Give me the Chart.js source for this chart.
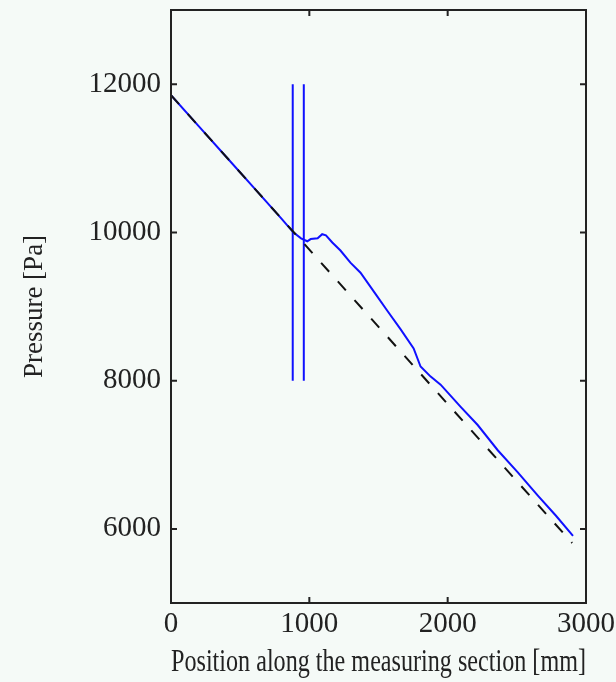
<!DOCTYPE html>
<html lang="en">
<head>
    <meta charset="UTF-8">
    <title>Pressure along the measuring section</title>
    <script src="https://cdn.jsdelivr.net/npm/chart.js"></script>
    <style>
        body { margin: 0; background: #f5faf7; }
    </style>
</head>
<body>
<canvas id="pressureChart" width="616" height="682"></canvas>

<script>
    // measured pressure (blue)
    const measuredPos = [0, 200, 400, 600, 800, 884, 940, 985, 1010, 1060, 1093, 1120, 1166, 1225, 1297, 1370, 1478, 1565, 1659, 1754, 1804, 1877, 1949, 2094, 2217, 2362, 2507, 2652, 2783, 2906];
    const measuredPa  = [11850, 11433, 11017, 10600, 10183, 10000, 9920, 9880, 9910, 9920, 9975, 9960, 9864, 9755, 9592, 9456, 9170, 8939, 8694, 8435, 8190, 8054, 7946, 7646, 7401, 7061, 6762, 6449, 6177, 5905];

    // reference line (black dashed)
    const refPos = [0, 2900];
    const refPa  = [11850, 5810];

    // the two vertical markers
    const markerPos = [880, 960];
    const markerPa  = [8000, 12000];

    const xTicks = [0, 1000, 2000, 3000];
    const yTicks = [6000, 8000, 10000, 12000];

    const serif = 'Liberation Serif';

    const toPoints = (xs, ys) => xs.map((x, i) => ({x: x, y: ys[i]}));

    // frame + inward tick marks like the original plot
    const framePlugin = {
        id: 'frame',
        afterDraw(chart) {
            const {ctx, chartArea: a, scales} = chart;
            ctx.save();
            ctx.strokeStyle = '#222';
            ctx.lineWidth = 2;
            ctx.strokeRect(a.left, a.top, a.right - a.left, a.bottom - a.top);
            ctx.beginPath();
            xTicks.forEach(v => {
                const px = scales.x.getPixelForValue(v);
                ctx.moveTo(px, a.bottom); ctx.lineTo(px, a.bottom - 6);
                ctx.moveTo(px, a.top); ctx.lineTo(px, a.top + 6);
            });
            yTicks.forEach(v => {
                const py = scales.y.getPixelForValue(v);
                ctx.moveTo(a.left, py); ctx.lineTo(a.left + 6, py);
                ctx.moveTo(a.right, py); ctx.lineTo(a.right - 6, py);
            });
            ctx.stroke();
            ctx.restore();
        }
    };

    const ctx = document.getElementById('pressureChart').getContext('2d');
    new Chart(ctx, {
        type: 'scatter',
        data: {
            datasets: [
                {
                    data: toPoints(refPos, refPa),
                    showLine: true,
                    borderColor: '#111',
                    borderWidth: 2,
                    borderDash: [12, 13],
                    pointRadius: 0
                },
                {
                    data: toPoints(measuredPos, measuredPa),
                    showLine: true,
                    borderColor: '#1010ff',
                    borderWidth: 2,
                    pointRadius: 0
                },
                {
                    data: toPoints([markerPos[0], markerPos[0]], markerPa),
                    showLine: true,
                    borderColor: '#1010ff',
                    borderWidth: 2,
                    pointRadius: 0
                },
                {
                    data: toPoints([markerPos[1], markerPos[1]], markerPa),
                    showLine: true,
                    borderColor: '#1010ff',
                    borderWidth: 2,
                    pointRadius: 0
                }
            ]
        },
        options: {
            responsive: false,
            animation: false,
            layout: { padding: { left: 0, right: 30, top: 10, bottom: 0 } },
            plugins: {
                legend: { display: false },
                tooltip: { enabled: false }
            },
            scales: {
                x: {
                    type: 'linear',
                    min: 0,
                    max: 3000,
                    afterBuildTicks: s => { s.ticks = xTicks.map(v => ({value: v})); },
                    afterFit: s => { s.height = 79; s.paddingLeft = 0; s.paddingRight = 0; },
                    grid: { display: false, drawTicks: false },
                    border: { display: false },
                    ticks: {
                        color: '#222',
                        padding: 4,
                        font: { family: serif, size: 29 },
                        callback: v => String(v)
                    },
                    title: {
                        display: true,
                        text: 'Position along the measuring section [mm]',
                        color: '#222',
                        font: { family: serif, size: 32 },
                        padding: { top: 0, bottom: 0 }
                    }
                },
                y: {
                    type: 'linear',
                    min: 5000,
                    max: 13000,
                    afterBuildTicks: s => { s.ticks = yTicks.map(v => ({value: v})); },
                    afterFit: s => { s.width = 171; s.paddingTop = 0; s.paddingBottom = 0; },
                    grid: { display: false, drawTicks: false },
                    border: { display: false },
                    ticks: {
                        color: '#222',
                        padding: 10,
                        font: { family: serif, size: 29 },
                        callback: v => String(v)
                    },
                    title: {
                        display: true,
                        text: 'Pressure [Pa]',
                        color: '#222',
                        font: { family: serif, size: 27 },
                        padding: { top: 19, bottom: 0 }
                    }
                }
            }
        },
        plugins: [framePlugin]
    });
</script>
</body>
</html>
